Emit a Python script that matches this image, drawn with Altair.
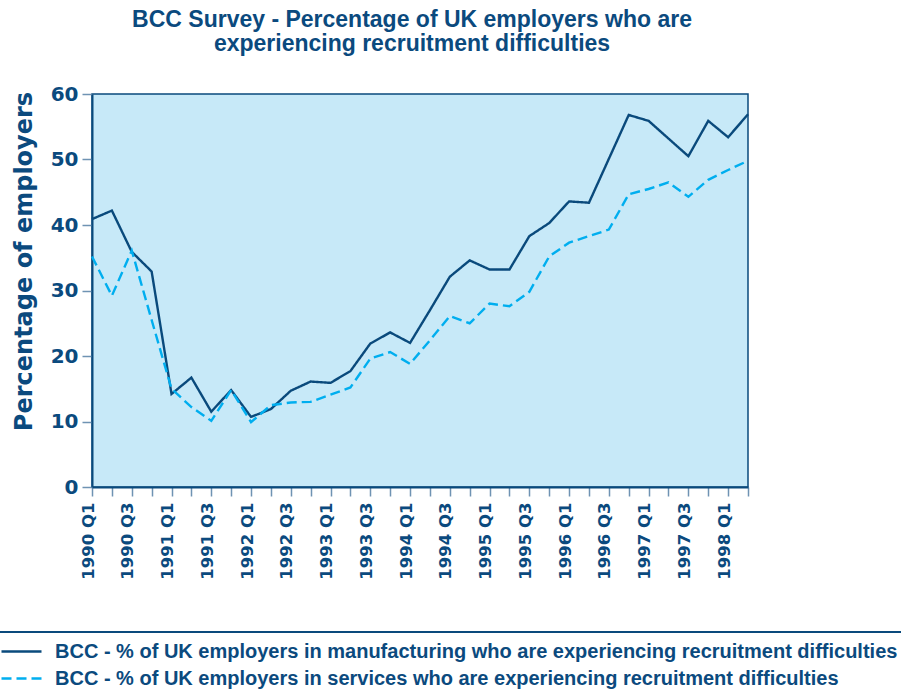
import altair as alt
import pandas as pd

quarters = [
    "1990 Q1", "1990 Q2", "1990 Q3", "1990 Q4",
    "1991 Q1", "1991 Q2", "1991 Q3", "1991 Q4",
    "1992 Q1", "1992 Q2", "1992 Q3", "1992 Q4",
    "1993 Q1", "1993 Q2", "1993 Q3", "1993 Q4",
    "1994 Q1", "1994 Q2", "1994 Q3", "1994 Q4",
    "1995 Q1", "1995 Q2", "1995 Q3", "1995 Q4",
    "1996 Q1", "1996 Q2", "1996 Q3", "1996 Q4",
    "1997 Q1", "1997 Q2", "1997 Q3", "1997 Q4",
    "1998 Q1", "1998 Q2",
]

manufacturing = [
    40.9, 42.2, 35.9, 32.9, 14.2, 16.7, 11.5, 14.8, 10.7, 11.9,
    14.7, 16.1, 15.9, 17.7, 21.9, 23.6, 22.0, 27.0, 32.1, 34.6,
    33.2, 33.2, 38.3, 40.3, 43.6, 43.4, 50.1, 56.8, 55.9, 53.2,
    50.5, 55.9, 53.4, 56.9,
]

services = [
    35.2, 29.2, 36.1, 25.5, 15.0, 12.2, 10.1, 14.8, 9.9, 12.5,
    12.9, 13.0, 14.1, 15.2, 19.6, 20.6, 18.8, 22.4, 26.1, 25.0,
    28.0, 27.6, 29.8, 35.2, 37.3, 38.3, 39.3, 44.7, 45.5, 46.5,
    44.3, 46.9, 48.4, 49.8,
]

series_names = [
    "BCC - % of UK employers in manufacturing who are experiencing recruitment difficulties",
    "BCC - % of UK employers in services who are experiencing recruitment difficulties",
]

title_lines = [
    "BCC Survey - Percentage of UK employers who are",
    "experiencing recruitment difficulties",
]

NAVY = "#0B4A7E"
DARK = "#0A4A7C"
CYAN = "#00AEEF"
BG = "#C7E9F8"
SANS = "Liberation Sans, Arial, sans-serif"
WIDE = "DejaVu Sans"

rows = []
for q, m, s in zip(quarters, manufacturing, services):
    rows.append({"quarter": q, "series": series_names[0], "line": series_names[0], "value": m})
    rows.append({"quarter": q, "series": series_names[1], "line": series_names[1], "value": s})
df = pd.DataFrame(rows)

legend_common = dict(
    orient="none",
    legendX=-92,
    symbolType="stroke",
    symbolSize=1600,
    symbolStrokeWidth=2.5,
    labelFont=SANS,
    labelFontWeight="bold",
    labelFontSize=20,
    labelColor=NAVY,
    labelOffset=12,
    labelLimit=900,
    padding=0,
    titleFontSize=1,
    titleOpacity=0,
    titlePadding=0,
)

lines = alt.Chart(df).mark_line(strokeWidth=2.4).encode(
    x=alt.X(
        "quarter:O",
        sort=quarters,
        scale=alt.Scale(type="point", padding=0),
        axis=alt.Axis(
            title=None,
            labelAngle=270,
            labelFont=WIDE,
            labelFontWeight="bold",
            labelFontSize=16.5,
            labelColor=NAVY,
            labelExpr="indexof(datum.value, 'Q1') > 0 || indexof(datum.value, 'Q3') > 0 ? datum.value : ''",
            labelOffset=-4,
            labelPadding=6,
            tickColor="#6F93B3",
            tickSize=9,
            tickWidth=1.5,
            domainColor=DARK,
            domainWidth=2,
            labelOverlap=False,
        ),
    ),
    y=alt.Y(
        "value:Q",
        scale=alt.Scale(domain=[0, 60], nice=False),
        axis=alt.Axis(
            title="Percentage of employers",
            values=[0, 10, 20, 30, 40, 50, 60],
            labelFont=WIDE,
            labelFontWeight="bold",
            labelFontSize=20,
            labelColor=NAVY,
            labelPadding=4,
            tickColor="#6F93B3",
            tickSize=10,
            tickWidth=1.5,
            domainColor=DARK,
            domainWidth=2,
            grid=False,
            titleFont=WIDE,
            titleFontWeight="bold",
            titleFontSize=24,
            titleColor=NAVY,
            titlePadding=14,
            titleY=167,
        ),
    ),
    color=alt.Color(
        "series:N",
        scale=alt.Scale(domain=series_names, range=[DARK, CYAN]),
        legend=alt.Legend(
            title="manufacturing", values=[series_names[0]], legendY=535, **legend_common
        ),
    ),
    strokeDash=alt.StrokeDash(
        "line:N",
        scale=alt.Scale(domain=[series_names[1], series_names[0]], range=[[10, 5], [1, 0]]),
        legend=alt.Legend(
            title="services",
            values=[series_names[1]],
            legendY=562,
            symbolStrokeColor=CYAN,
            **legend_common,
        ),
    ),
)

separator = alt.Chart(df).mark_rule(color=DARK, strokeWidth=2).encode(
    x=alt.value(-92), x2=alt.value(809), y=alt.value(538)
)

chart = alt.layer(lines, separator).properties(
    width=656,
    height=393,
    title=alt.TitleParams(
        text=title_lines,
        font=SANS,
        fontWeight="bold",
        fontSize=23,
        color=NAVY,
        anchor="middle",
        offset=28,
        dx=-8,
        lineHeight=24,
    ),
    autosize=alt.AutoSizeParams(type="none"),
    padding={"left": 92, "top": 94, "right": 153, "bottom": 210},
).configure_view(
    fill=BG, stroke=DARK, strokeWidth=1.5
)

chart.save("out.html", embed_options={"renderer": "svg", "actions": False})
